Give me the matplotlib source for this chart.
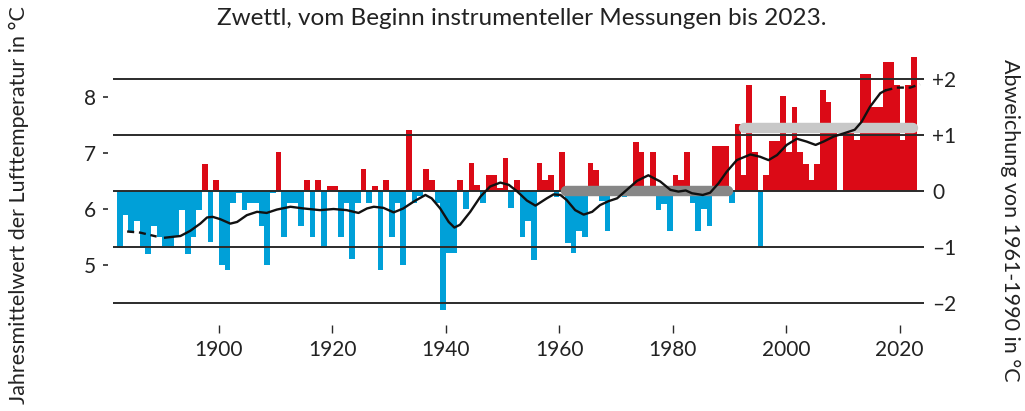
import numpy as np
import matplotlib
matplotlib.use("Agg")
import matplotlib.pyplot as plt

plt.rcParams["font.family"] = ["Lato", "DejaVu Sans"]

# Jahre 1883-2023, Abweichung vom Mittel 1961-1990 in °C
years = np.arange(1883, 2024)
anomaly = [
    -1.01, -0.43, -0.72, -0.53, -1.02, -1.12, -0.62, -0.81, -1.01, -1.01,
    -0.81, -0.33, -1.12, -0.81, -0.33, 0.48, -0.91, 0.20, -1.31, -1.41,
    -0.21, -0.03, -0.33, -0.22, -0.22, -0.62, -1.31, -0.03, 0.69, -0.81,
    -0.22, -0.22, -0.62, 0.20, -0.81, 0.20, -1.02, 0.09, 0.09, -0.81,
    -0.22, -1.21, -0.22, 0.39, -0.22, 0.09, -1.41, 0.20, -0.81, -0.22,
    -1.31, 1.08, -0.22, -0.08, 0.39, 0.20, -0.22, -2.11, -1.11, -1.11,
    0.20, -0.32, 0.49, 0.10, -0.22, 0.28, 0.28, 0.05, 0.58, -0.31,
    0.20, -0.81, -0.53, -1.22, 0.49, 0.20, 0.28, -0.10, 0.69, -0.92,
    -1.11, -0.72, -0.81, 0.49, 0.37, -0.18, -0.72, -0.05, 0.05, -0.10,
    0.05, 0.88, 0.70, 0.05, 0.70, -0.33, -0.23, -0.72, 0.28, 0.20,
    0.69, -0.22, -0.72, -0.32, -0.62, 0.80, 0.80, 0.80, -0.21, 1.19,
    0.28, 1.89, 0.69, -0.99, 0.28, 0.89, 0.89, 1.69, 0.69, 1.50,
    0.69, 0.48, 0.20, 0.48, 1.80, 1.59, 1.20, 0.00, 1.10, 1.10,
    0.90, 2.09, 2.09, 1.50, 1.50, 2.29, 2.29, 1.89, 0.91, 1.89,
    2.39,
]

# geglaettete Kurve (Jahr, Abweichung)
trend_year = [
    1883.8, 1886.1, 1889.0, 1890.5, 1893.2, 1894.9, 1896.7, 1897.9, 1898.9,
    1900.2, 1902.0, 1903.2, 1904.9, 1906.7, 1908.4, 1910.2, 1912.6, 1914.9,
    1917.8, 1920.2, 1922.5, 1924.6, 1926.1, 1927.3, 1929.0, 1930.8, 1932.5,
    1934.3, 1936.4, 1937.5, 1939.0, 1940.5, 1941.5, 1942.5, 1944.3, 1946.1,
    1947.8, 1949.6, 1951.1, 1952.5, 1954.3, 1955.8, 1957.8, 1959.0, 1960.2,
    1961.3, 1962.8, 1964.3, 1965.8, 1967.2, 1968.7, 1970.2, 1971.9, 1973.7,
    1975.7, 1977.8, 1979.6, 1981.0, 1982.3, 1983.4, 1985.3, 1986.6, 1988.1,
    1989.5, 1991.3, 1993.7, 1995.4, 1996.9, 1998.4, 2000.1, 2001.9, 2003.6,
    2005.2, 2006.6, 2008.4, 2010.3, 2012.1, 2013.3, 2014.8, 2016.6, 2017.5,
    2019.5, 2021.9, 2023.6,
]
trend = [
    -0.72, -0.74, -0.81, -0.83, -0.80, -0.71, -0.58, -0.47, -0.46,
    -0.50, -0.58, -0.55, -0.43, -0.37, -0.39, -0.33, -0.28, -0.31,
    -0.34, -0.32, -0.34, -0.39, -0.31, -0.28, -0.30, -0.38, -0.31,
    -0.19, -0.07, -0.13, -0.31, -0.55, -0.65, -0.60, -0.37, -0.10,
    0.08, 0.15, 0.11, 0.00, -0.17, -0.26, -0.13, -0.06, -0.07,
    -0.16, -0.34, -0.42, -0.37, -0.25, -0.18, -0.13, 0.02, 0.18,
    0.28, 0.17, 0.02, -0.01, 0.01, -0.04, -0.07, -0.03, 0.14,
    0.34, 0.55, 0.65, 0.61, 0.55, 0.64, 0.82, 0.93, 0.88,
    0.82, 0.88, 0.97, 1.03, 1.09, 1.23, 1.50, 1.74, 1.79,
    1.84, 1.84, 1.90,
]
dash_start_end = 1890.0   # gestrichelt bis hier
dash_end_start = 2017.5   # gestrichelt ab hier

ref_mean = 6.32           # Mittel 1961-1990 in °C
mean_9120 = 1.13          # Mittel 1991-2020 als Abweichung

xticks = [1900, 1920, 1940, 1960, 1980, 2000, 2020]
right_ticks = [2, 1, 0, -1, -2]
right_labels = ["+2", "+1", "0", "–1", "–2"]
left_ticks = [5, 6, 7, 8]

RED = "#db0a16"
BLUE = "#00a0d8"
DARK = "#2b2b2b"
TXT = "#222222"

fig = plt.figure(figsize=(10.25, 4.11), dpi=100)
ax = fig.add_axes([0.1102, 0.2092, 0.7912, 0.6816])
axl = ax.twinx()

vals = np.array(anomaly)
colors = np.where(vals >= 0, RED, BLUE)
ax.bar(years - 1, vals, width=1.0, align="edge", color=colors, linewidth=0, zorder=1)

for t in right_ticks:
    ax.axhline(t, color=DARK, lw=1.4, zorder=2)

# Referenzperioden
ax.plot([1961.1, 1989.8], [0, 0], color="#878787", lw=7.5, solid_capstyle="round", zorder=3)
ax.plot([1992.6, 2022.4], [mean_9120, mean_9120], color="#c8c8c8", lw=7.5,
        solid_capstyle="round", zorder=3)

ty = np.array(trend_year)
tv = np.array(trend)
m1 = ty <= dash_start_end
m3 = ty >= dash_end_start
m2 = (ty >= dash_start_end) & (ty <= dash_end_start)
ax.plot(ty[m1], tv[m1], color="#111111", lw=1.7, ls=(0, (3, 2)), zorder=4)
ax.plot(ty[m2], tv[m2], color="#111111", lw=1.7, zorder=4)
ax.plot(ty[m3], tv[m3], color="#111111", lw=1.7, ls=(0, (3, 2)), zorder=4)

ax.set_xlim(1881.3, 2024.3)
ax.set_ylim(-2.384, 2.6)
for s in ax.spines.values():
    s.set_visible(False)

ax.set_xticks(xticks)
ax.set_xticklabels([str(x) for x in xticks])
ax.tick_params(axis="x", length=5.8, width=1.0, color=DARK, pad=5, labelsize=15,
               labelcolor=TXT)

# rechte Achse: Abweichung
ax.yaxis.tick_right()
ax.set_yticks(right_ticks)
ax.set_yticklabels(right_labels)
ax.tick_params(axis="y", which="both", left=False, labelleft=False, right=False,
               labelright=True, length=0, pad=6, labelsize=15, labelcolor=TXT)

# linke Achse: absolute Temperatur
axl.set_ylim(ax.get_ylim()[0] + ref_mean, ax.get_ylim()[1] + ref_mean)
axl.set_yticks(left_ticks)
axl.set_yticklabels([str(v) for v in left_ticks])
for s in axl.spines.values():
    s.set_visible(False)
axl.spines["left"].set_position(("outward", 3.6))
axl.tick_params(axis="y", left=True, labelleft=True, right=False, labelright=False,
                length=3.6, width=1.2, color=DARK, pad=5, labelsize=15, labelcolor=TXT)

fig.text(0.509, 0.955, "Zwettl, vom Beginn instrumenteller Messungen bis 2023.",
         ha="center", va="center", fontsize=17.5, color=TXT)
fig.text(0.018, 0.5, "Jahresmittelwert der Lufttemperatur in °C", rotation=90,
         ha="center", va="center", fontsize=15.5, color=TXT)
fig.text(0.985, 0.465, "Abweichung von 1961-1990 in °C", rotation=-90,
         ha="center", va="center", fontsize=15.5, color=TXT)

fig.savefig("out.png", dpi=100)
